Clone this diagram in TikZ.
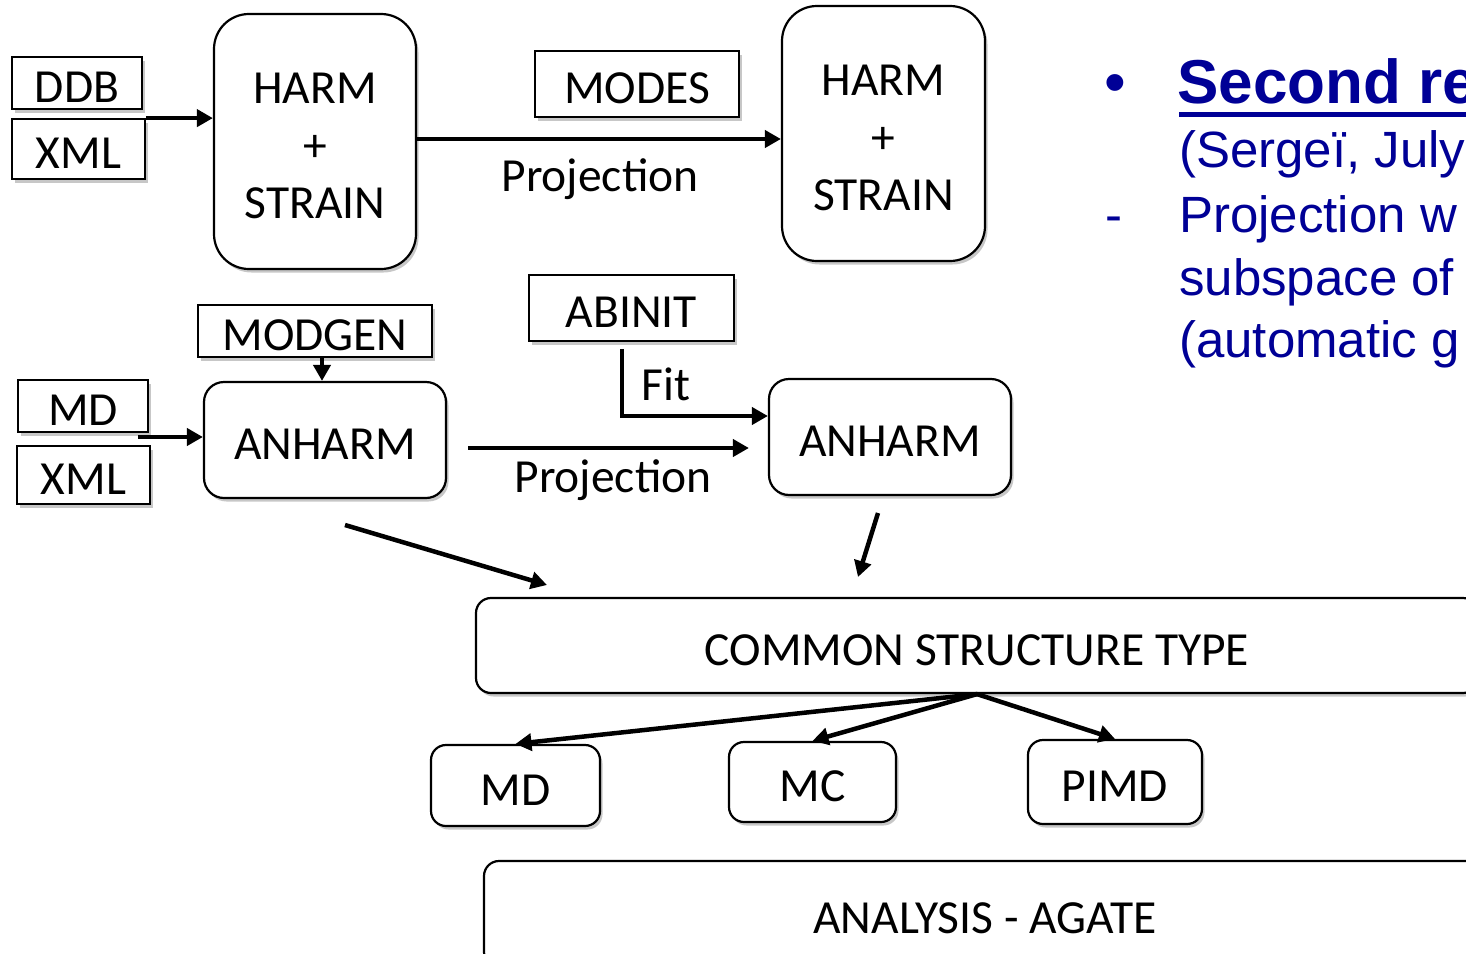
\documentclass[tikz,border=0pt]{standalone}
\usepackage{fontspec}
\setmainfont{Carlito}
\newfontfamily\arialfont{Liberation Sans}
\usetikzlibrary{arrows.meta,shadows}
\definecolor{slideblue}{RGB}{0,0,150}
\begin{document}
\begin{tikzpicture}[x=1pt,y=-1pt,
  every node/.style={font=\fontsize{47.5}{57.5}\selectfont},
  softshadow/.style={drop shadow={shadow xshift=2.5pt, shadow yshift=-3.5pt, opacity=0.22, fill=black}},
  sq/.style={draw, line width=1.8pt, fill=white, inner sep=0pt, text height=39pt, text depth=0pt, softshadow},
  rbox/.style={draw, line width=2.2pt, fill=white, inner sep=0pt, text height=39pt, text depth=0pt, softshadow},
  threeline/.style={align=center, text height=154pt, text depth=0pt},
  arr/.style={line width=4.5pt, -{Triangle[length=16pt,width=17pt]}},
  lbl/.style={inner sep=0pt, anchor=base},
  bluetext/.style={inner sep=0pt, anchor=base west, text=slideblue, font=\arialfont\fontsize{51}{51}\selectfont}
]
\useasboundingbox (0,0) rectangle (1466,953);
\clip (0,0) rectangle (1466,953);

% --- harmonic part ---
\node[sq, minimum width=130pt, minimum height=52pt] (ddb) at (77,83) {DDB};
\node[sq, minimum width=133pt, minimum height=60pt] (xmla) at (78.5,149) {XML};
\node[rbox, rounded corners=35pt, minimum width=202pt, minimum height=255pt, threeline] (harma) at (315,141.5) {HARM\\+\\STRAIN};
\node[sq, minimum width=204pt, minimum height=66pt] (modes) at (637,84) {MODES};
\node[rbox, rounded corners=35pt, minimum width=203pt, minimum height=255pt, threeline] (harmb) at (883.5,133.5) {HARM\\+\\STRAIN};
\node[lbl] (proja) at (600,191) {Projection};
\draw[arr] (xmla.north east) -- (xmla.north east -| harma.west);
\draw[arr] ([yshift=2.5pt]harma.east) -- ([yshift=2.5pt]harma.east -| harmb.west);

% --- anharmonic part ---
\node[sq, minimum width=234pt, minimum height=52pt] (modgen) at (315,331) {MODGEN};
\node[sq, minimum width=130pt, minimum height=52pt] (mda) at (83,406) {MD};
\node[sq, minimum width=133pt, minimum height=58pt] (xmlb) at (83.5,475) {XML};
\node[rbox, rounded corners=20pt, minimum width=242pt, minimum height=116pt] (anha) at (325,440) {ANHARM};
\node[sq, minimum width=205pt, minimum height=66pt] (abinit) at (631.5,308) {ABINIT};
\node[rbox, rounded corners=20pt, minimum width=242pt, minimum height=116pt] (anhb) at (890,437) {ANHARM};
\node[lbl] (projb) at (613,492) {Projection};
\node[lbl] (fit) at (666,400) {Fit};
\coordinate (mdxml) at (138,437);
\coordinate (pjs) at (468,448);
\draw[arr] ([xshift=7pt]modgen.south) -- ([xshift=7pt]modgen.south |- anha.north);
\draw[arr] (mdxml) -- (mdxml -| anha.west);
\draw[arr] (pjs) -- ([xshift=-19pt]pjs -| anhb.west);
\draw[arr] ([xshift=-9.5pt,yshift=-7pt]abinit.south) |- ([yshift=21pt]anhb.west);

% --- common structure and drivers ---
\node[rbox, rounded corners=15pt, minimum width=1002pt, minimum height=95pt] (cst) at (977,645.5) {COMMON STRUCTURE TYPE};
\node[rbox, rounded corners=15pt, minimum width=169pt, minimum height=81pt] (mdc) at (515.5,785.5) {MD};
\node[rbox, rounded corners=15pt, minimum width=167pt, minimum height=80pt] (mc) at (812.5,782) {MC};
\node[rbox, rounded corners=15pt, minimum width=174pt, minimum height=84pt] (pimd) at (1115,782) {PIMD};
\node[rbox, rounded corners=15pt, minimum width=1002pt, minimum height=106pt] (agate) at (985,914) {ANALYSIS - AGATE};
\coordinate (ina) at (345,525);
\coordinate (outa) at (547,585);
\coordinate (inb) at (878,513);
\coordinate (outb) at (858,577);
\draw[arr] (ina) -- (outa);
\draw[arr] (inb) -- (outb);
\draw[arr] (cst.south) -- (mdc.north);
\draw[arr] (cst.south) -- (mc.north);
\draw[arr] (cst.south) -- (pimd.north);

% --- notes on the right ---
\node[bluetext, font=\arialfont\fontsize{62}{62}\selectfont] (bul) at (1104,103) {•};
\node[bluetext, font=\arialfont\bfseries\fontsize{62}{62}\selectfont] (title) at (1177,103) {Second re};
\draw[slideblue, line width=5pt] (1179,114) -- (1470,114);
\node[bluetext] (who) at (1179,167) {(Sergeï, July};
\node[bluetext] (dash) at (1105,232) {-};
\node[bluetext] (l1) at (1179,232) {Projection w};
\node[bluetext] (l2) at (1179,295) {subspace of};
\node[bluetext] (l3) at (1179,357) {(automatic g};
\end{tikzpicture}
\end{document}
